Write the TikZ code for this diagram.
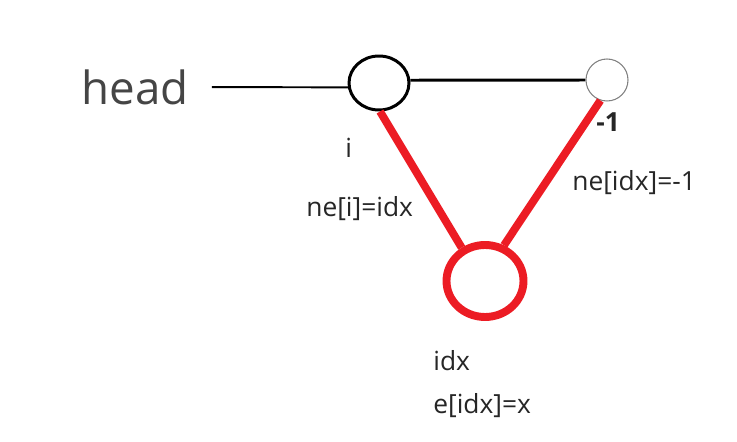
\documentclass[tikz,border=0pt]{standalone}
\usepackage{fontspec}
\setmainfont{Open Sans}
\usetikzlibrary{shapes.geometric}

\definecolor{linkred}{HTML}{EC1C24}
\definecolor{headgray}{HTML}{454545}

\begin{document}
\begin{tikzpicture}[x = 0.02cm, y = -0.02cm,
        lbl/.style = {text = black!85, font = \fontsize{15}{17}\selectfont, inner sep = 0pt, anchor = west},
        redlink/.style = {draw = linkred, line width = 4.5pt}]
            \useasboundingbox (0, 0) rectangle (737, 442);

            \node (head) at (135, 87) [text = headgray, font = \fontsize{26}{29}\selectfont, inner sep = 0pt]{head};
            \node (i) at (379, 83) [ellipse, draw = black, line width = 1.7pt, minimum width = 1.2cm, minimum height = 1.08cm, inner sep = 0pt]{};
            \node (m1) at (607, 80) [circle, draw = black!50, line width = 0.6pt, minimum size = 0.84cm, inner sep = 0pt]{};
            \node (idx) at (485, 281) [ellipse, draw = linkred, line width = 4.5pt, minimum width = 1.54cm, minimum height = 1.44cm, inner sep = 0pt]{};

            \node (li) at (345, 148) [lbl]{i};
            \node (lm1) at (596, 122) [lbl, font = \fontsize{15}{17}\selectfont\bfseries]{-1};
            \node (lnei) at (306, 209) [lbl]{ne[i]=idx};
            \node (lneidx) at (572, 183) [lbl]{ne[idx]=-1};
            \node (lidx) at (433, 361) [lbl]{idx};
            \node (le) at (433, 406) [lbl]{e[idx]=x};

            \draw[line width = 1.1pt, shorten <= 0.46cm] (head.east) -- (i.188);
            \draw[line width = 1.7pt] (i.5) -- (m1.west);
            \draw[redlink] (i.-88) -- (idx.125);
            \draw[redlink] (m1.252) -- (idx.62);
        \end{tikzpicture}
\end{document}
